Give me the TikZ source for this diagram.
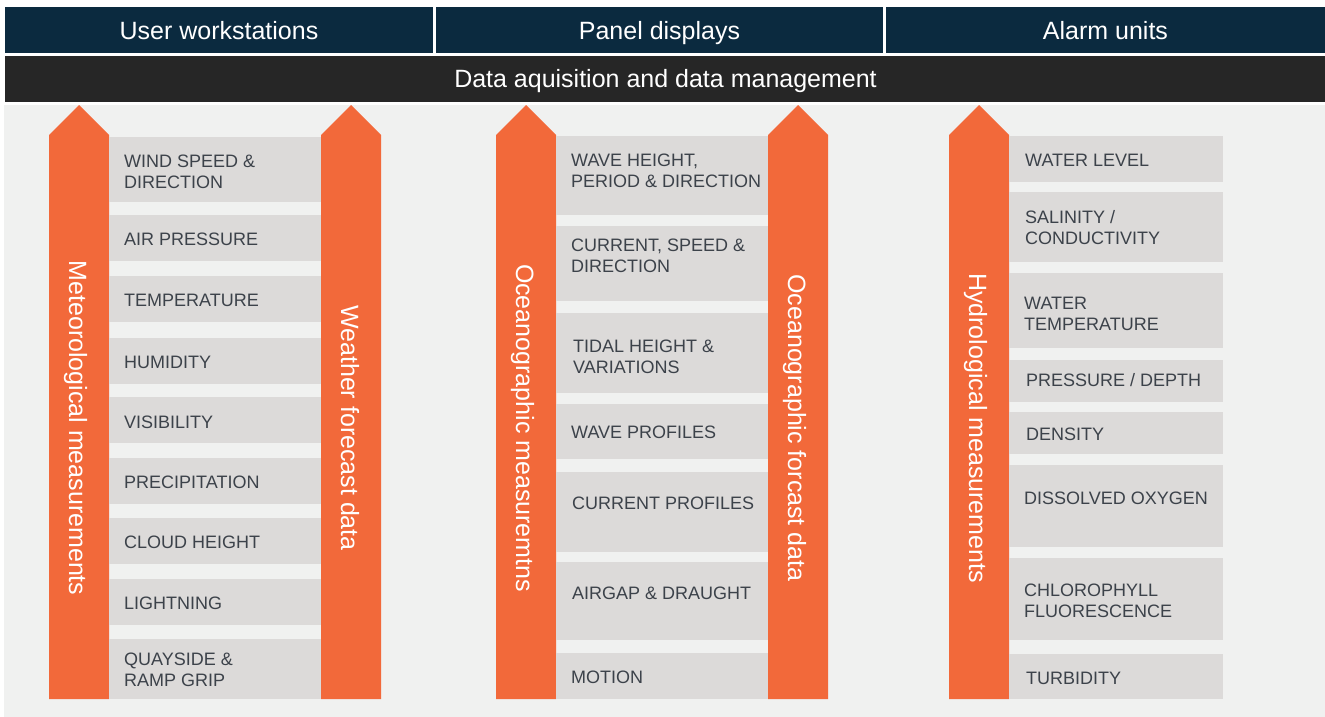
\documentclass[tikz,border=0pt]{standalone}
\usepackage{fontspec}
\setmainfont{Liberation Sans}
\definecolor{navy}{HTML}{0B2A3F}
\definecolor{barblack}{HTML}{262626}
\definecolor{bggray}{HTML}{F0F1F0}
\definecolor{itemgray}{HTML}{DCDAD9}
\definecolor{orng}{HTML}{F2693A}
\definecolor{lblgray}{HTML}{3C424A}
\tikzset{
  itemfill/.style={fill=itemgray},
  arrowfill/.style={fill=orng},
  lbl/.style={font=\fontsize{18}{21}\selectfont, text=lblgray, align=left, inner sep=0pt, anchor=west},
  bigtxt/.style={font=\fontsize{25}{30}\selectfont, text=white, inner sep=0pt, anchor=base},
  vlbl/.style={bigtxt, rotate=-90},
}
% #1 x1, #2 x2, #3 y1, #4 y2, #5 text x, #6 text y, #7 name, #8 text
\newcommand\itm[8]{%
  \fill[itemfill] (#1,#3) rectangle (#2,#4);
  \node[lbl] (#7) at (#5,#6) {#8};}
% #1 left x, #2 right x
\newcommand\orarrow[2]{%
  \fill[arrowfill] (#1,699) -- (#1,135) -- ({(#1+#2)/2},105) -- (#2,135) -- (#2,699) -- cycle;}
\begin{document}
\begin{tikzpicture}[x=1pt,y=-1pt]
\useasboundingbox (0,0) rectangle (1325,717);
\fill[white] (0,0) rectangle (1325,717);
% headers
\fill[navy] (5,7) rectangle (433,53);
\fill[navy] (436,7) rectangle (883,53);
\fill[navy] (886,7) rectangle (1325,53);
\node[bigtxt] (h1) at (219,39.5) {User workstations};
\node[bigtxt] (h2) at (659.5,39.5) {Panel displays};
\node[bigtxt] (h3) at (1105.5,39.5) {Alarm units};
% data bar
\fill[barblack] (5,56) rectangle (1325,102);
\node[bigtxt] (dam) at (665.5,87.5) {Data aquisition and data management};
% background
\fill[bggray] (4,105) rectangle (1325,717);
% arrows
\orarrow{49}{109}
\orarrow{321}{381}
\orarrow{496}{556}
\orarrow{768}{828}
\orarrow{949}{1009}
\node[vlbl] (met) at (69,428) {Meteorological measurements};
\node[vlbl] (wfd) at (341,428) {Weather forecast data};
\node[vlbl] (ocm) at (516,428) {Oceanographic measuremtns};
\node[vlbl] (ocf) at (788,428) {Oceanographic forcast data};
\node[vlbl] (hyd) at (969,428) {Hydrological measurements};
% column 1
\itm{109}{321}{137}{202}{124}{171.5}{c1a}{WIND SPEED \&\\DIRECTION}
\itm{109}{321}{215}{261}{124}{239}{c1b}{AIR PRESSURE}
\itm{109}{321}{276}{322}{124}{300}{c1c}{TEMPERATURE}
\itm{109}{321}{338}{384}{124}{362}{c1d}{HUMIDITY}
\itm{109}{321}{397}{443}{124}{422}{c1e}{VISIBILITY}
\itm{109}{321}{458}{504}{124}{482}{c1f}{PRECIPITATION}
\itm{109}{321}{518}{564}{124}{542}{c1g}{CLOUD HEIGHT}
\itm{109}{321}{579}{625}{124}{603}{c1h}{LIGHTNING}
\itm{109}{321}{639}{699}{124}{669.5}{c1i}{QUAYSIDE \&\\RAMP GRIP}
% column 2
\itm{556}{768}{136}{215}{571}{170.5}{c2a}{WAVE HEIGHT,\\PERIOD \& DIRECTION}
\itm{556}{768}{226}{301}{571}{255.5}{c2b}{CURRENT, SPEED \&\\DIRECTION}
\itm{556}{768}{313}{393}{573}{356.5}{c2c}{TIDAL HEIGHT \&\\VARIATIONS}
\itm{556}{768}{404}{459}{571}{432}{c2d}{WAVE PROFILES}
\itm{556}{768}{472}{552}{572}{503}{c2e}{CURRENT PROFILES}
\itm{556}{768}{562}{640}{572}{593}{c2f}{AIRGAP \& DRAUGHT}
\itm{556}{768}{653}{699}{571}{677}{c2g}{MOTION}
% column 3
\itm{1009}{1223}{136}{182}{1025}{160}{c3a}{WATER LEVEL}
\itm{1009}{1223}{192}{262}{1025}{227.5}{c3b}{SALINITY /\\CONDUCTIVITY}
\itm{1009}{1223}{273}{348}{1024}{313.5}{c3c}{WATER\\TEMPERATURE}
\itm{1009}{1223}{360}{402}{1026}{380}{c3d}{PRESSURE / DEPTH}
\itm{1009}{1223}{412}{454}{1026}{434}{c3e}{DENSITY}
\itm{1009}{1223}{465}{547}{1024}{498}{c3f}{DISSOLVED OXYGEN}
\itm{1009}{1223}{558}{640}{1024}{601}{c3g}{CHLOROPHYLL\\FLUORESCENCE}
\itm{1009}{1223}{654}{699}{1026}{678}{c3h}{TURBIDITY}
\end{tikzpicture}
\end{document}
